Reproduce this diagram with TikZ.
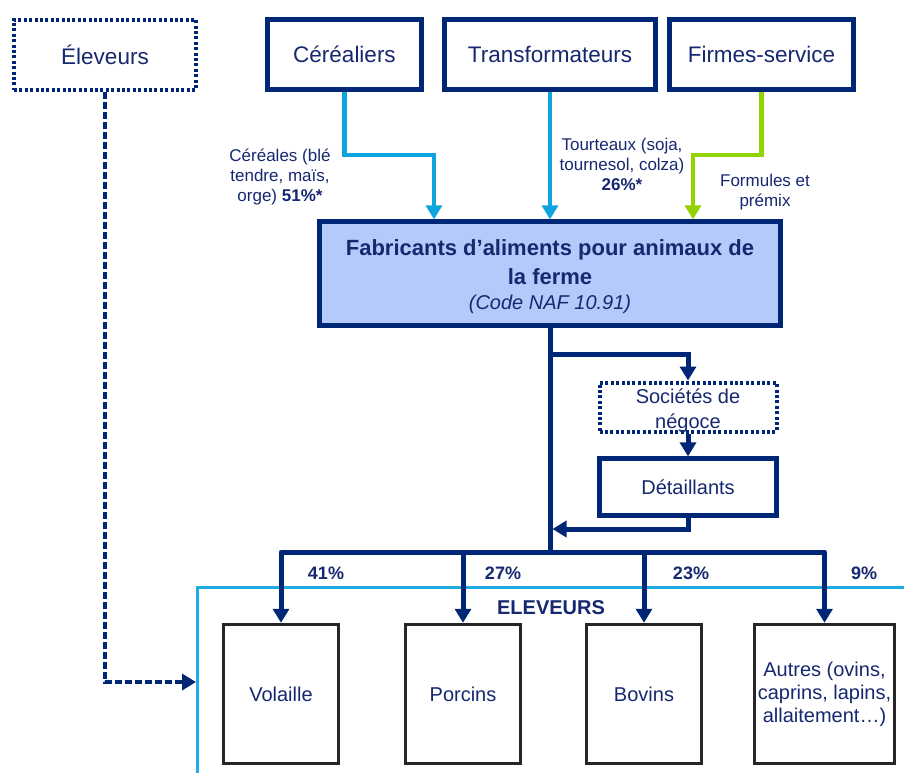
\documentclass[tikz,border=0pt]{standalone}
\usepackage{fontspec}
\setmainfont{Liberation Sans}
\usetikzlibrary{arrows.meta}
\definecolor{navy}{RGB}{0,38,118}
\definecolor{txt}{RGB}{22,40,112}
\definecolor{skyc}{RGB}{14,165,222}
\definecolor{grnc}{RGB}{146,210,0}
\definecolor{fabfill}{RGB}{180,202,250}
\definecolor{elevb}{RGB}{30,172,226}
\tikzset{
  box/.style={draw=navy, line width=4.3pt, text=txt, align=center, inner sep=0pt},
  dotbox/.style={box, line width=4pt, dash pattern=on 3pt off 2.4pt},
  animal/.style={draw=black!85, line width=3.5pt, text=txt, align=center, inner sep=0pt,
    minimum width=115pt, minimum height=139pt, font=\fontsize{20}{23}\selectfont},
  tip/.style={-{Triangle[width=16pt,length=14pt]}},
  nav/.style={tip, draw=navy, line width=5pt},
  navline/.style={draw=navy, line width=5pt},
  blu/.style={tip, draw=skyc, line width=4.8pt},
  grn/.style={tip, draw=grnc, line width=4.8pt},
  dsh/.style={tip, draw=navy, line width=4.5pt, dash pattern=on 7pt off 3pt},
  lab/.style={text=txt, align=center, inner sep=0pt, font=\fontsize{17}{20}\selectfont},
  pct/.style={text=txt, inner sep=0pt, font=\fontsize{18}{20}\bfseries\selectfont},
  topfont/.style={font=\fontsize{22.5}{26}\selectfont}
}
\begin{document}
\begin{tikzpicture}[x=1pt,y=-1pt]
\clip (0,0) rectangle (904,772);
\fill[white] (0,0) rectangle (904,772);

% big ELEVEURS frame
\node[draw=elevb, line width=2.5pt, anchor=north west, minimum width=760pt, minimum height=260pt, inner sep=0pt] (elevbox) at (196,586) {};
\node[text=txt, inner sep=0pt, font=\fontsize{20}{22}\bfseries\selectfont] (elevtitle) at (551,608) {ELEVEURS};

% top row
\node[dotbox, topfont, minimum width=182pt, minimum height=70pt] (elev) at (105,54.5) {Éleveurs};
\node[box, topfont, minimum width=154pt, minimum height=70pt] (cer) at (344.5,54.5) {Céréaliers};
\node[box, topfont, minimum width=211pt, minimum height=70pt] (tra) at (550,54.5) {Transformateurs};
\node[box, topfont, minimum width=184pt, minimum height=70pt] (fir) at (761.5,54.5) {Firmes-service};

% main box
\node[box, fill=fabfill, minimum width=461pt, minimum height=104pt] (fab) at (550,273.5) {};
\node[text=txt, align=center, inner sep=0pt, font=\fontsize{22}{29}\bfseries\selectfont] (fabt) at (550,262) {Fabricants d’aliments pour animaux de\\la ferme};
\node[text=txt, inner sep=0pt, font=\fontsize{20}{22}\itshape\selectfont] (fabc) at (550,304) {(Code NAF 10.91)};

% labels
\node[lab] (lcer) at (280,177) {Céréales (blé\\tendre, maïs,\\orge) \textbf{51\%*}};
\node[lab] (ltra) at (622,164) {Tourteaux (soja,\\tournesol, colza)\\\textbf{26\%*}};
\node[lab] (lfir) at (765,192.5) {Formules et\\prémix};

% distribution boxes
\node[dotbox, minimum width=177pt, minimum height=49pt] (soc) at (688,407) {};
\node[text=txt, align=center, inner sep=0pt, font=\fontsize{20}{25}\selectfont] (soct) at (688,411) {Sociétés de\\négoce};
\node[box, font=\fontsize{20}{24}\selectfont, minimum width=177pt, minimum height=57pt] (det) at (688,487) {Détaillants};

% animal boxes
\node[animal] (vol) at (281,694) {Volaille};
\node[animal] (por) at (463,694) {Porcins};
\node[animal] (bov) at (644,694) {Bovins};
\node[animal, minimum width=140pt] (aut) at (824.5,694) {Autres (ovins,\\caprins, lapins,\\allaitement…)};

% percentages
\node[pct] (p1) at (326,573) {41\%};
\node[pct] (p2) at (503,573) {27\%};
\node[pct] (p3) at (691,573) {23\%};
\node[pct] (p4) at (864,573) {9\%};

% inputs
\draw[blu] (cer.south) -- (cer.south |- 0,155) -| ([xshift=-116pt]fab.north);
\draw[blu] (tra.south) -- (tra.south |- fab.north);
\draw[grn] (fir.south) -- (fir.south |- 0,155) -| ([xshift=143pt]fab.north);

% distribution
\coordinate (hub) at (fab.south |- 0,552);
\coordinate (j) at (fab.south |- 0,529);
\draw[navline] (fab.south) -- (hub);
\draw[nav] (fab.south |- 0,354) -| (soc.north);
\draw[nav] (soc.south) -- (det.north);
\draw[nav] (det.south) |- ([xshift=2.5pt]j);
\draw[nav, line join=round] (hub) -| (vol.north);
\draw[nav, line join=round] (hub) -| (por.north);
\draw[nav, line join=round] (hub) -| (bov.north);
\draw[nav, line join=round] (hub) -| (aut.north);

% Eleveurs dashed link
\coordinate (ein) at (elevbox.west |- 0,682);
\draw[dsh] (elev.south) |- (ein);
\end{tikzpicture}
\end{document}
